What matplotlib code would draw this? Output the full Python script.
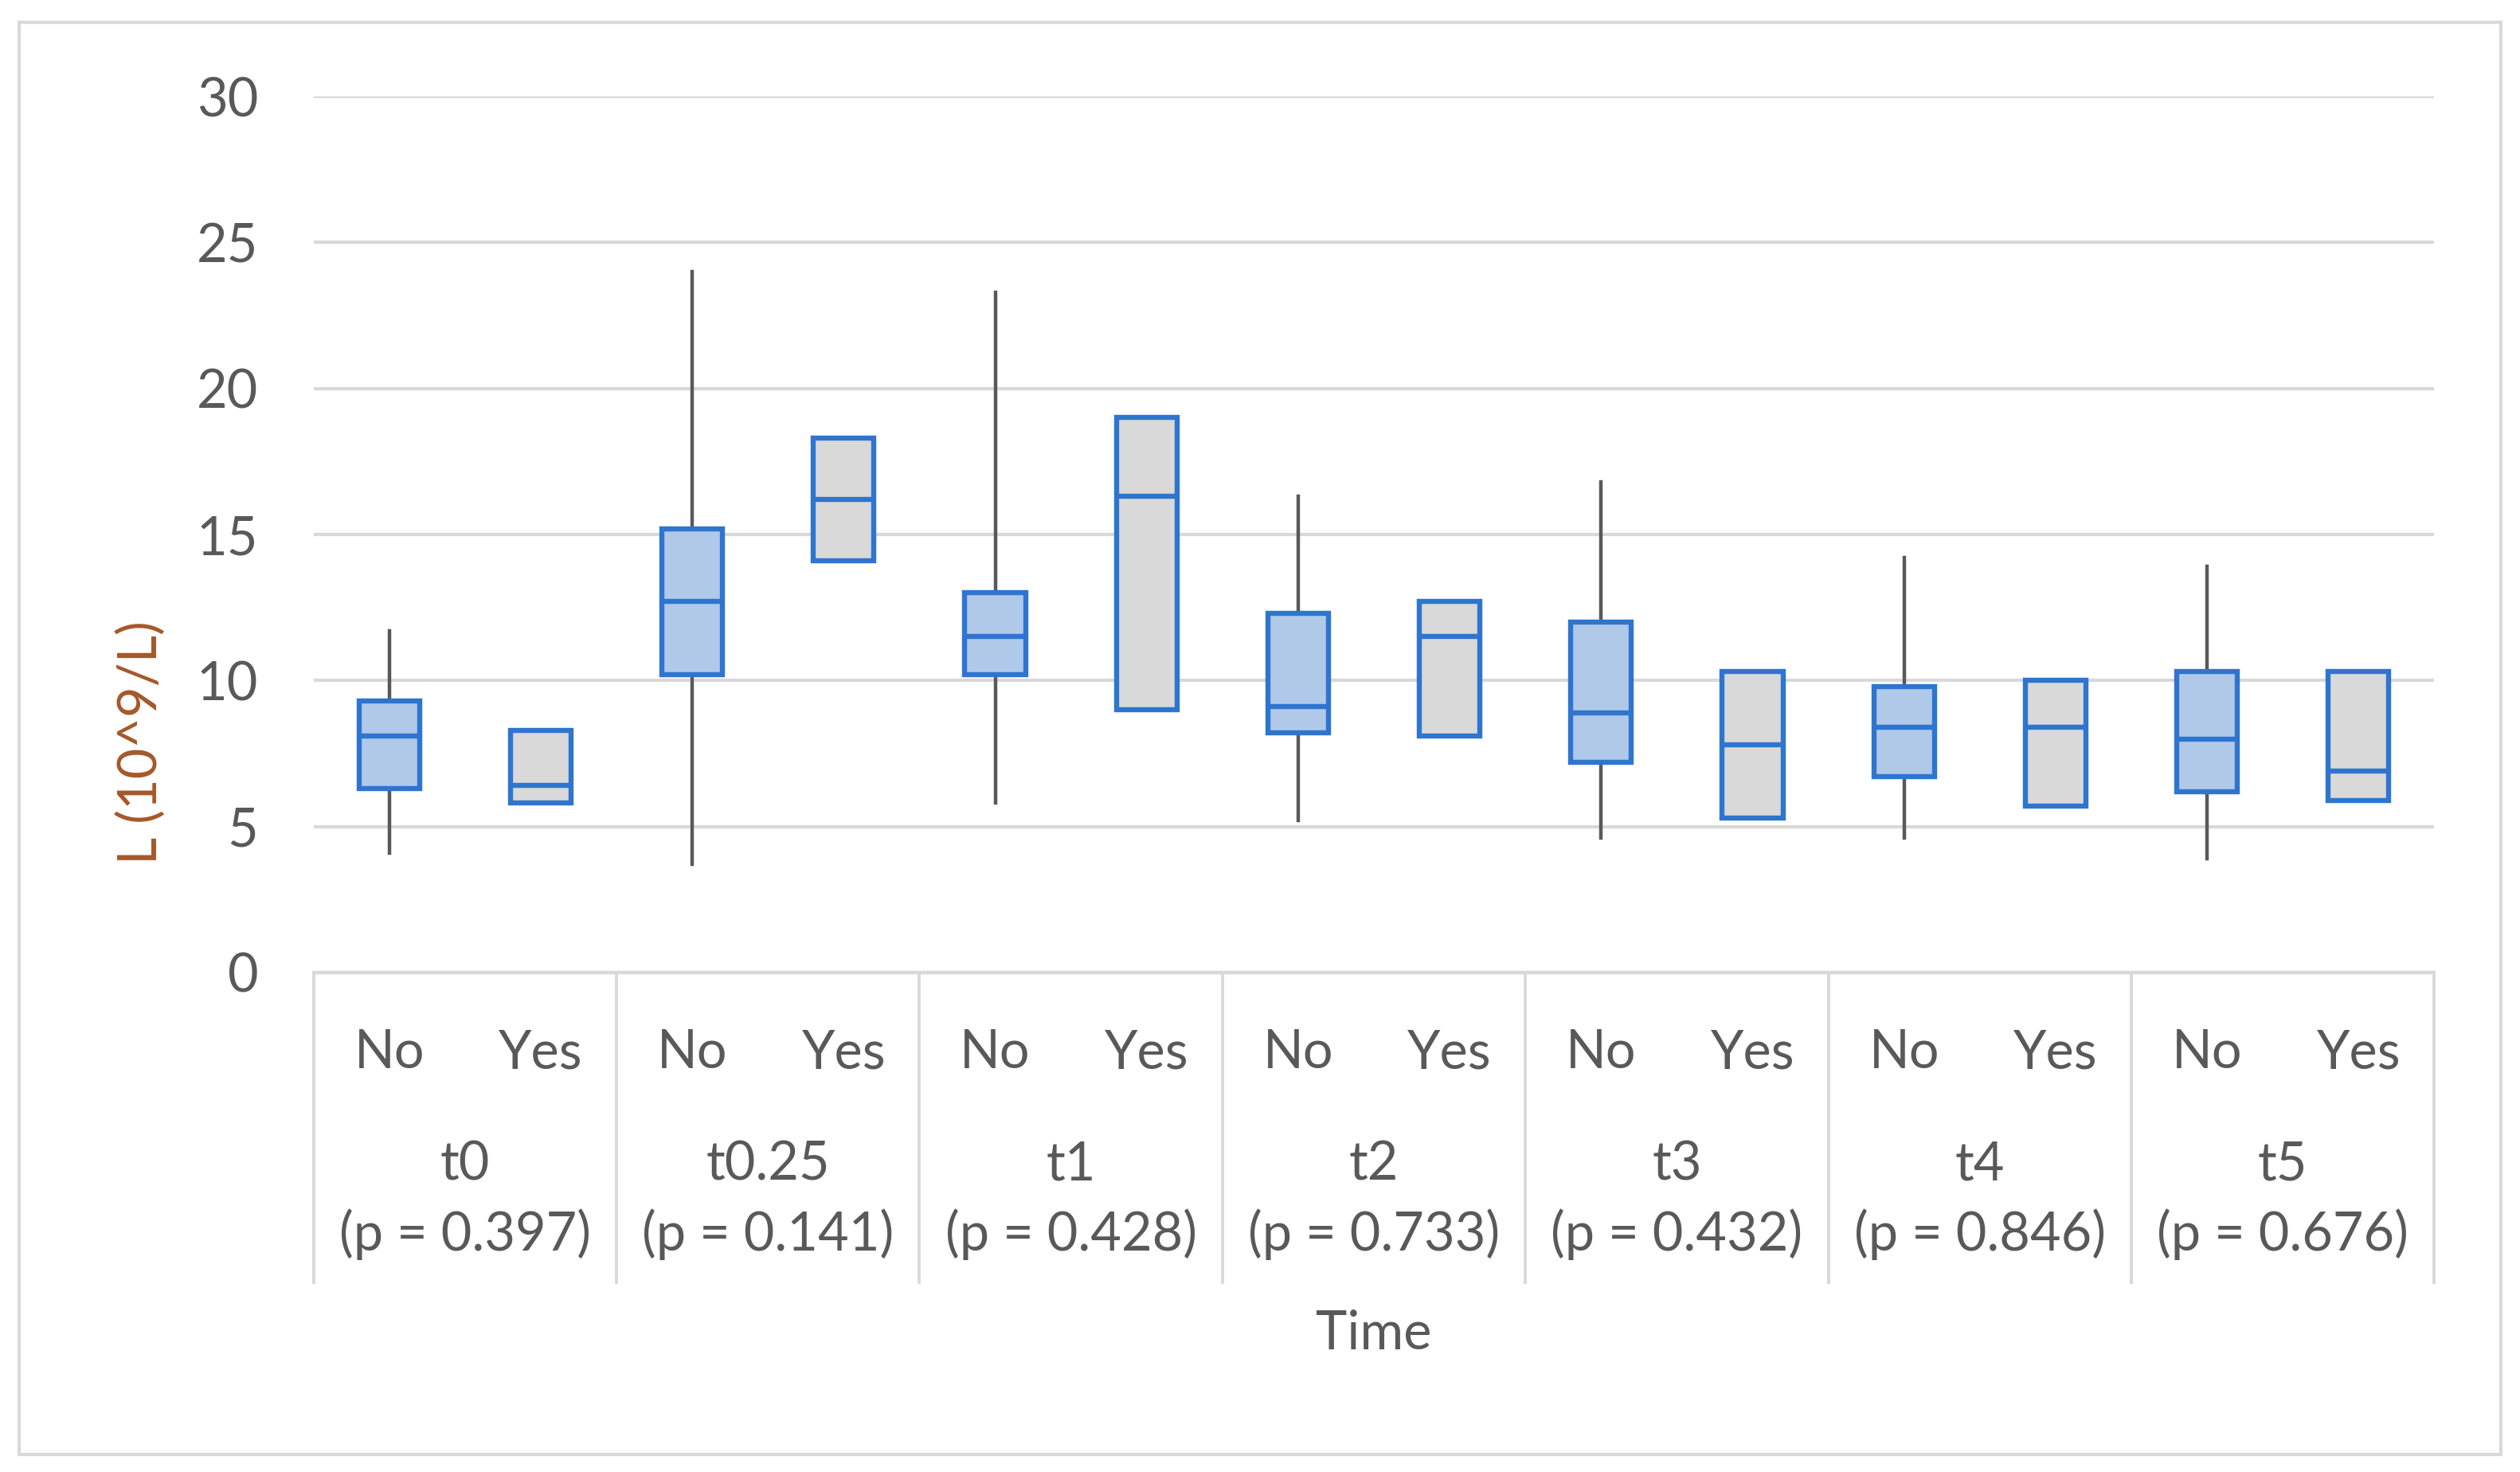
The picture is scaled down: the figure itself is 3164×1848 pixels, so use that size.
import numpy as np
import matplotlib.pyplot as plt
from matplotlib.patches import Rectangle

plt.rcParams['font.family'] = ['Lato', 'DejaVu Sans']

# data
times = ['t0', 't0.25', 't1', 't2', 't3', 't4', 't5']
p_values = ['0.397', '0.141', '0.428', '0.733', '0.432', '0.846', '0.676']
groups = ['No', 'Yes']

no_whislo = [4.1, 3.7, 5.8, 5.2, 4.6, 4.6, 3.9]
no_q1     = [6.3, 10.2, 10.2, 8.2, 7.2, 6.7, 6.2]
no_med    = [8.1, 12.7, 11.5, 9.1, 8.9, 8.4, 8.0]
no_q3     = [9.3, 15.2, 13.0, 12.3, 12.0, 9.8, 10.3]
no_whishi = [11.7, 24.0, 23.3, 16.3, 16.8, 14.2, 13.9]

yes_q1  = [5.8, 14.1, 9.0, 8.1, 5.3, 5.7, 5.9]
yes_med = [6.4, 16.2, 16.3, 11.5, 7.8, 8.4, 6.9]
yes_q3  = [8.3, 18.3, 19.0, 12.7, 10.3, 10.0, 10.3]

box_edge = '#2E75CF'
no_fill = '#B0C9E9'
yes_fill = '#D9D9D9'
grid_col = '#D9D9D9'
text_col = '#595959'
fs = 24

fig = plt.figure(figsize=(15.82, 9.24), dpi=200)
ax = fig.add_axes([0.1244, 0.3393, 0.8416, 0.5952])

stats = []
fills = []
for i in range(len(times)):
    stats.append(dict(whislo=no_whislo[i], q1=no_q1[i], med=no_med[i],
                      q3=no_q3[i], whishi=no_whishi[i], fliers=[]))
    fills.append(no_fill)
    stats.append(dict(whislo=yes_q1[i], q1=yes_q1[i], med=yes_med[i],
                      q3=yes_q3[i], whishi=yes_q3[i], fliers=[]))
    fills.append(yes_fill)

positions = np.arange(len(stats))
bp = ax.bxp(stats, positions=positions, widths=0.4, patch_artist=True,
            showcaps=False, showfliers=False,
            boxprops=dict(edgecolor=box_edge, linewidth=2.3),
            medianprops=dict(color=box_edge, linewidth=2.3),
            whiskerprops=dict(color='#595959', linewidth=1.6))
for patch, c in zip(bp['boxes'], fills):
    patch.set_facecolor(c)
    patch.set_zorder(3)
for m in bp['medians']:
    m.set_zorder(4)

ax.set_xlim(-0.5, len(stats) - 0.5)
ax.set_ylim(0, 30)
ax.set_yticks(np.arange(0, 31, 5))
ax.yaxis.grid(True, color=grid_col, linewidth=1.5)
ax.set_axisbelow(True)
ax.tick_params(axis='y', length=0, pad=25, labelsize=fs, labelcolor=text_col)
ax.set_xticks([])
for s in ['top', 'right', 'left']:
    ax.spines[s].set_visible(False)
ax.spines['bottom'].set_color(grid_col)
ax.spines['bottom'].set_linewidth(1.6)

# category axis below the plot
trans = ax.get_xaxis_transform()
for k in range(len(times) + 1):
    xs = k * 2 - 0.5
    ax.plot([xs, xs], [0, -0.354], transform=trans, clip_on=False,
            color=grid_col, linewidth=1.4)
for i, pos in enumerate(positions):
    ax.text(pos, -0.092, groups[i % 2], transform=trans, ha='center',
            va='center', fontsize=fs, color=text_col)
for k, t in enumerate(times):
    xc = k * 2 + 0.5
    ax.text(xc, -0.22, t, transform=trans, ha='center', va='center',
            fontsize=fs, color=text_col)
    ax.text(xc, -0.299, '(p = ' + p_values[k] + ')', transform=trans,
            ha='center', va='center', fontsize=fs, color=text_col)
ax.text(0.5, -0.413, 'Time', transform=ax.transAxes, ha='center',
        va='center', fontsize=fs, color=text_col)

fig.text(0.056, 0.4957, 'L (10^9/L)', rotation=90, ha='center', va='center',
         fontsize=fs, color='#A5582A')

fig.patches.append(Rectangle((24 / 3164, 1 - 1826 / 1848), 3116 / 3164,
                             1798 / 1848, transform=fig.transFigure,
                             fill=False, edgecolor=grid_col, linewidth=1.5))

fig.savefig('out.png', dpi=200, facecolor='white')
